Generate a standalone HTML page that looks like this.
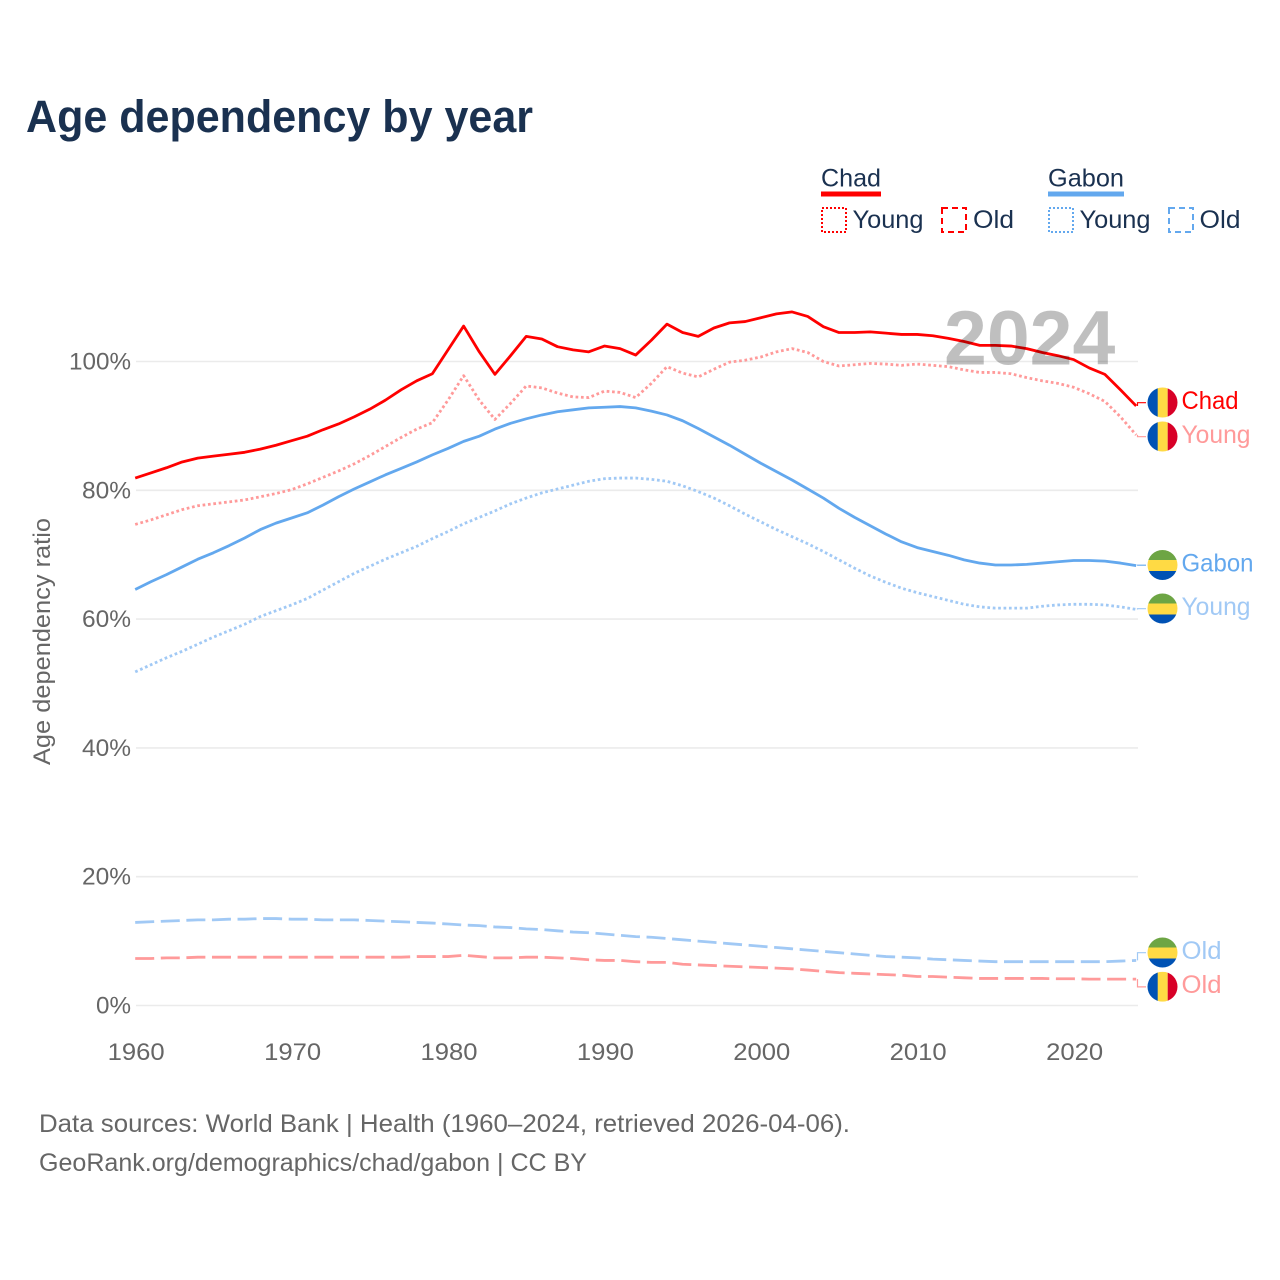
<!DOCTYPE html>
<html lang="en">
<head>
<meta charset="utf-8">
<title>Age dependency by year</title>
<style>
html,body{margin:0;padding:0;background:#fff;}
svg{display:block;font-family:"Liberation Sans",sans-serif;}
</style>
</head>
<body>
<svg id="chart" xmlns="http://www.w3.org/2000/svg" width="1280" height="1280" viewBox="0 0 1280 1280">
  <rect x="0" y="0" width="1280" height="1280" fill="#ffffff"/>
  <text x="26" y="132" font-size="45" font-weight="700" fill="#1a3150" textLength="507" lengthAdjust="spacingAndGlyphs">Age dependency by year</text>

  <g>
    <text x="821" y="186.5" font-size="25" fill="#1a3150" textLength="60" lengthAdjust="spacingAndGlyphs">Chad</text>
    <rect x="821" y="191.5" width="60" height="5" fill="#ff0000"/>
    <rect x="822" y="208" width="24" height="24" fill="none" stroke="#ff0000" stroke-width="2" stroke-dasharray="2 2"/>
    <text x="852.5" y="228" font-size="25" fill="#1a3150" textLength="71" lengthAdjust="spacingAndGlyphs">Young</text>
    <rect x="942" y="208" width="24" height="24" fill="none" stroke="#ff0000" stroke-width="2" stroke-dasharray="6 4"/>
    <text x="973" y="228" font-size="25" fill="#1a3150" textLength="41" lengthAdjust="spacingAndGlyphs">Old</text>
    <text x="1048" y="186.5" font-size="25" fill="#1a3150" textLength="76" lengthAdjust="spacingAndGlyphs">Gabon</text>
    <rect x="1048" y="191.5" width="76" height="5" fill="#63a8ee"/>
    <rect x="1049" y="208" width="24" height="24" fill="none" stroke="#63a8ee" stroke-width="2" stroke-dasharray="2 2"/>
    <text x="1079.5" y="228" font-size="25" fill="#1a3150" textLength="71" lengthAdjust="spacingAndGlyphs">Young</text>
    <rect x="1169" y="208" width="24" height="24" fill="none" stroke="#63a8ee" stroke-width="2" stroke-dasharray="6 4"/>
    <text x="1199.5" y="228" font-size="25" fill="#1a3150" textLength="41" lengthAdjust="spacingAndGlyphs">Old</text>
  </g>

  <g id="grid"></g>
  <g id="yticks"></g>
  <g id="xticks"></g>
  <text transform="translate(50,641.5) rotate(-90)" text-anchor="middle" font-size="24" fill="#666666" textLength="247" lengthAdjust="spacingAndGlyphs">Age dependency ratio</text>

  <g id="series"></g>
  <g id="endlabels"></g>

  <text id="year-watermark" x="944" y="364.5" font-size="77" font-weight="700" fill="#000000" fill-opacity="0.25">2024</text>

  <text x="39" y="1132" font-size="25" fill="#666666" textLength="811" lengthAdjust="spacingAndGlyphs">Data sources: World Bank | Health (1960–2024, retrieved 2026-04-06).</text>
  <text x="39" y="1171" font-size="25" fill="#666666" textLength="548" lengthAdjust="spacingAndGlyphs">GeoRank.org/demographics/chad/gabon | CC BY</text>
</svg>
<script>
var startYear = 1960;
var yTickValues = [0, 20, 40, 60, 80, 100];
var xTickYears = [1960, 1970, 1980, 1990, 2000, 2010, 2020];

var chadTotal = [81.9,82.7,83.5,84.4,85.0,85.3,85.6,85.9,86.4,87.0,87.7,88.4,89.4,90.3,91.4,92.6,94.0,95.6,97.0,98.1,101.8,105.5,101.5,98.0,100.9,103.9,103.5,102.3,101.8,101.5,102.4,102.0,101.0,103.3,105.8,104.5,103.9,105.2,106.0,106.2,106.8,107.4,107.7,107.0,105.4,104.5,104.5,104.6,104.4,104.2,104.2,104.0,103.6,103.1,102.5,102.5,102.4,102.0,101.4,100.9,100.3,99.0,98.0,95.6,93.1];
var chadYoung = [74.7,75.4,76.2,77.0,77.6,77.9,78.2,78.5,79.0,79.5,80.1,81.0,82.0,83.0,84.1,85.4,86.8,88.2,89.5,90.5,94.0,97.8,94.0,91.0,93.5,96.2,95.9,95.1,94.5,94.4,95.4,95.2,94.4,96.6,99.2,98.2,97.6,98.8,99.9,100.2,100.7,101.5,102.0,101.4,100.0,99.3,99.5,99.7,99.6,99.4,99.6,99.4,99.2,98.7,98.3,98.3,98.1,97.5,97.0,96.6,96.0,95.0,93.8,91.4,88.6];
var chadOld = [7.3,7.3,7.4,7.4,7.5,7.5,7.5,7.5,7.5,7.5,7.5,7.5,7.5,7.5,7.5,7.5,7.5,7.5,7.6,7.6,7.6,7.8,7.6,7.4,7.4,7.5,7.5,7.4,7.3,7.1,7.0,7.0,6.8,6.7,6.7,6.4,6.3,6.2,6.1,6.0,5.9,5.8,5.7,5.5,5.3,5.1,5.0,4.9,4.8,4.7,4.5,4.5,4.4,4.3,4.2,4.2,4.2,4.2,4.2,4.15,4.15,4.1,4.1,4.1,4.1];
var gabonTotal = [64.6,65.8,66.9,68.1,69.3,70.3,71.4,72.6,73.9,74.9,75.7,76.5,77.7,79.0,80.2,81.3,82.4,83.4,84.4,85.5,86.5,87.6,88.4,89.5,90.4,91.1,91.7,92.2,92.5,92.8,92.9,93.0,92.8,92.3,91.7,90.8,89.6,88.3,87.0,85.6,84.2,82.9,81.6,80.2,78.8,77.2,75.8,74.5,73.2,72.0,71.1,70.5,69.9,69.2,68.7,68.4,68.4,68.5,68.7,68.9,69.1,69.1,69.0,68.7,68.3];
var gabonYoung = [51.8,52.9,54.0,55.0,56.1,57.2,58.2,59.2,60.4,61.3,62.2,63.2,64.5,65.8,67.1,68.2,69.3,70.3,71.3,72.5,73.6,74.8,75.8,76.8,77.9,78.8,79.6,80.2,80.8,81.4,81.8,81.9,81.9,81.7,81.4,80.7,79.8,78.8,77.6,76.3,75.1,73.9,72.8,71.7,70.5,69.2,67.9,66.7,65.7,64.8,64.1,63.5,62.9,62.3,61.9,61.7,61.7,61.7,62.0,62.2,62.3,62.3,62.2,61.9,61.5];
var gabonOld = [12.9,13.0,13.1,13.2,13.3,13.3,13.4,13.4,13.5,13.5,13.4,13.4,13.3,13.3,13.3,13.2,13.1,13.0,12.9,12.8,12.65,12.5,12.4,12.2,12.1,11.9,11.8,11.6,11.4,11.3,11.1,10.9,10.7,10.6,10.4,10.2,10.0,9.8,9.6,9.4,9.2,9.0,8.8,8.6,8.4,8.2,8.0,7.8,7.6,7.5,7.4,7.2,7.1,7.0,6.9,6.8,6.8,6.8,6.8,6.8,6.8,6.8,6.8,6.9,7.0];

var NS = 'http://www.w3.org/2000/svg';
var RED = '#ff0000', REDLIGHT = '#ff9a9a', BLUE = '#63a8ee', BLUELIGHT = '#a1c9f5';

function xScale(year) { return 135.2 + (year - 1960) * 15.64; }
function yScale(v) { return 1005.5 - v * 6.44; }

function make(tag, attrs, parent) {
  var el = document.createElementNS(NS, tag);
  for (var k in attrs) el.setAttribute(k, attrs[k]);
  parent.appendChild(el);
  return el;
}

var gridG = document.getElementById('grid');
var yG = document.getElementById('yticks');
var xG = document.getElementById('xticks');
yTickValues.forEach(function (v) {
  var gl = make('line', {x1: 136, x2: 1138, y1: yScale(v), y2: yScale(v), stroke: '#ebebeb', 'stroke-width': 1.6}, gridG);
  
  
  var t = make('text', {x: 131, y: yScale(v) + 8, 'text-anchor': 'end', 'font-size': 24, fill: '#666666'}, yG);
  
  
  t.textContent = v + '%';
  t.setAttribute('textLength', v === 100 ? 62 : (v === 0 ? 35 : 49));
  t.setAttribute('lengthAdjust', 'spacingAndGlyphs');
});
xTickYears.forEach(function (yr) {
  var t = make('text', {x: xScale(yr) + 1, y: 1060, 'text-anchor': 'middle', 'font-size': 24, fill: '#666666', textLength: 57, lengthAdjust: 'spacingAndGlyphs'}, xG);
  
  
  t.textContent = yr;
});

function pathFor(values) {
  return values.map(function (v, i) {
    return (i ? 'L' : 'M') + xScale(startYear + i).toFixed(2) + ' ' + yScale(v).toFixed(2);
  }).join(' ');
}

var seriesG = document.getElementById('series');
function drawLine(values, color, dash, name) {
  var p = make('path', {d: pathFor(values), fill: 'none', stroke: color, 'stroke-width': 2.8, 'stroke-linejoin': 'round'}, seriesG);
  if (dash) p.setAttribute('stroke-dasharray', dash);
  
  
}
drawLine(chadOld, REDLIGHT, '19 6.6', 'line-chad-old');
drawLine(gabonOld, BLUELIGHT, '19 6.6', 'line-gabon-old');
drawLine(gabonYoung, BLUELIGHT, '2.7 2.7', 'line-gabon-young');
drawLine(chadYoung, REDLIGHT, '2.7 2.7', 'line-chad-young');
drawLine(gabonTotal, BLUE, null, 'line-gabon-total');
drawLine(chadTotal, RED, null, 'line-chad-total');

var labelsG = document.getElementById('endlabels');
function drawFlag(kind, cy) {
  var id = 'clip' + Math.round(cy);
  var cp = make('clipPath', {id: id}, labelsG);
  make('circle', {cx: 1162.5, cy: cy, r: 15}, cp);
  var g = make('g', {'clip-path': 'url(#' + id + ')'}, labelsG);
  
  
  if (kind === 'chad') {
    make('rect', {x: 1147, y: cy - 15, width: 11, height: 30, fill: '#0052b4'}, g);
    make('rect', {x: 1157.7, y: cy - 15, width: 10, height: 30, fill: '#ffda44'}, g);
    make('rect', {x: 1167.7, y: cy - 15, width: 11, height: 30, fill: '#d80027'}, g);
  } else {
    make('rect', {x: 1147, y: cy - 15, width: 31, height: 10, fill: '#6da544'}, g);
    make('rect', {x: 1147, y: cy - 5, width: 31, height: 11, fill: '#ffda44'}, g);
    make('rect', {x: 1147, y: cy + 6, width: 31, height: 10, fill: '#0052b4'}, g);
  }
}
function drawEndLabel(kind, values, text, color, cy, len) {
  var endY = yScale(values[values.length - 1]);
  var c = make('path', {d: 'M1137.5 ' + endY.toFixed(2) + ' L1137.5 ' + (cy + 0.2) + ' L1146 ' + (cy + 0.2), fill: 'none', stroke: color, 'stroke-width': 1.2}, labelsG);
  
  
  drawFlag(kind, cy);
  var t = make('text', {x: 1181.5, y: cy + 6.5, 'font-size': 25, fill: color, textLength: len, lengthAdjust: 'spacingAndGlyphs'}, labelsG);
  
  
  t.textContent = text;
}
drawEndLabel('chad', chadTotal, 'Chad', RED, 402.5, 57);
drawEndLabel('chad', chadYoung, 'Young', REDLIGHT, 436.5, 69);
drawEndLabel('gabon', gabonTotal, 'Gabon', BLUE, 565, 72);
drawEndLabel('gabon', gabonYoung, 'Young', BLUELIGHT, 608.5, 69);
drawEndLabel('gabon', gabonOld, 'Old', BLUELIGHT, 952.5, 40);
drawEndLabel('chad', chadOld, 'Old', REDLIGHT, 986.7, 40);
</script>
</body>
</html>
